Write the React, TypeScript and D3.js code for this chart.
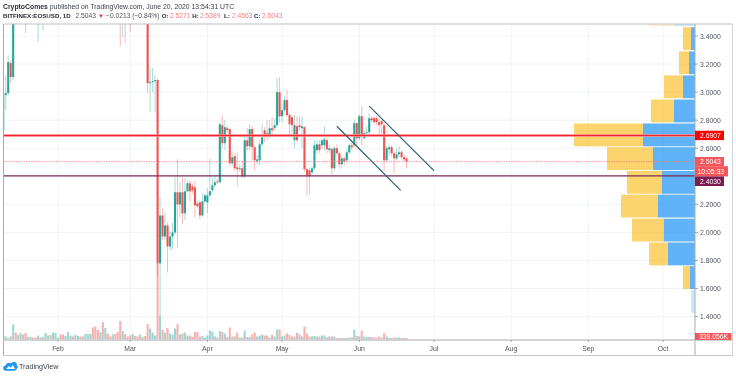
import React from "react";
import * as d3 from "d3";

// Above-the-window placeholders: candles of Jan–Mar that lie beyond the top of the visible price range
const U = 3.58, D = 3.6, T = 3.62, B = 3.56;

const startDate = Date.UTC(2020, 0, 10);

const opens = [
  2.728,2.978,2.993,3.207,3.107,D,U,U,D,D,
  U,U,D,D,U,D,U,U,U,D,
  U,U,U,D,D,U,U,U,D,U,
  U,D,D,U,U,U,D,D,D,U,
  D,U,D,D,U,D,D,D,U,D,
  D,D,U,D,D,U,D,D,3.6,3.064,
  3.071,3.078,3.086,1.779,2.121,1.971,2.05,1.9,1.971,2.0,
  2.286,2.2,2.286,2.136,2.293,2.35,2.328,2.321,2.207,2.214,
  2.121,2.221,2.214,2.264,2.3,2.336,2.364,2.357,2.764,2.636,
  2.743,2.736,2.493,2.543,2.464,2.45,2.457,2.4,2.657,2.614,
  2.736,2.607,2.507,2.514,2.628,2.728,2.707,2.693,2.743,2.743,
  2.764,3.0,2.828,2.871,2.943,2.836,2.821,2.657,2.757,2.764,
  2.743,2.75,2.45,2.443,2.428,2.457,2.586,2.628,2.621,2.621,
  2.657,2.586,2.593,2.457,2.6,2.564,2.486,2.528,2.514,2.571,
  2.621,2.621,2.778,2.671,2.828,2.671,2.707,2.714,2.814,2.814,
  2.814,2.786,2.793,2.764,2.514,2.593,2.607,2.564,2.528,2.557,
  2.571,2.536,2.5271,
];
const highs = [
  3.014,3.121,3.264,3.228,T,T,T,T,T,T,
  T,T,T,T,T,T,T,T,T,T,
  T,T,T,T,T,T,T,T,T,T,
  T,T,T,T,T,T,T,T,T,T,
  T,T,T,T,T,T,T,T,T,T,
  T,T,T,T,T,T,T,T,T,3.178,
  3.171,3.121,3.1,2.25,2.171,2.143,2.071,2.014,2.071,2.393,
  2.521,2.357,2.393,2.386,2.371,2.371,2.35,2.371,2.228,2.228,
  2.278,2.278,2.314,2.528,2.393,2.4,2.386,2.786,2.836,2.8,
  2.757,2.743,2.571,2.564,2.571,2.486,2.514,2.693,2.743,2.771,
  2.757,2.621,2.55,2.657,2.778,2.75,2.8,2.8,2.821,2.814,
  3.1,3.107,2.914,2.971,3.014,2.85,2.836,2.836,2.828,2.828,
  2.828,2.757,2.457,2.457,2.471,2.657,2.657,2.657,2.671,2.757,
  2.678,2.621,2.607,2.614,2.628,2.578,2.55,2.543,2.593,2.636,
  2.643,2.8,2.786,2.843,2.9,2.728,2.757,2.85,2.828,2.828,
  2.828,2.807,2.8,2.771,2.614,2.621,2.621,2.578,2.6,2.614,
  2.586,2.55,2.5389,
];
const lows = [
  2.693,2.871,2.978,3.064,3.086,B,B,B,B,3.421,
  B,B,B,B,3.357,B,3.436,B,B,B,
  B,B,B,B,B,B,B,B,B,B,
  B,B,B,B,B,B,B,B,B,B,
  B,B,B,B,B,B,B,3.328,3.393,3.35,
  B,3.428,B,B,B,B,B,B,2.993,2.857,
  3.0,2.857,1.686,1.407,1.943,1.943,1.714,1.871,1.879,1.986,
  1.893,2.107,2.064,2.086,2.286,2.221,2.278,2.107,2.171,2.093,
  2.107,2.207,2.136,2.25,2.286,2.321,2.343,2.35,2.6,2.586,
  2.707,2.478,2.478,2.443,2.328,2.436,2.386,2.386,2.586,2.586,
  2.514,2.443,2.486,2.478,2.614,2.643,2.657,2.671,2.678,2.728,
  2.75,2.786,2.786,2.857,2.828,2.693,2.693,2.6,2.643,2.728,
  2.6,2.436,2.264,2.271,2.407,2.443,2.564,2.564,2.6,2.586,
  2.564,2.564,2.407,2.443,2.55,2.45,2.457,2.478,2.5,2.557,
  2.586,2.607,2.621,2.657,2.621,2.664,2.7,2.7,2.786,2.771,
  2.764,2.693,2.693,2.436,2.5,2.55,2.543,2.421,2.514,2.536,
  2.521,2.507,2.4563,
];
const closes = [
  2.978,2.993,3.214,3.107,3.58,U,D,D,U,U,
  D,D,U,U,D,U,D,D,D,U,
  D,D,D,U,U,D,D,D,U,D,
  D,U,U,D,D,D,U,U,U,D,
  U,D,U,U,D,U,U,U,D,U,
  U,U,D,U,U,D,U,U,3.064,3.071,
  3.078,3.086,1.779,2.121,1.971,2.05,1.9,1.971,2.0,2.286,
  2.2,2.286,2.136,2.293,2.35,2.293,2.3,2.193,2.186,2.121,
  2.221,2.264,2.264,2.293,2.336,2.357,2.357,2.771,2.636,2.75,
  2.728,2.493,2.536,2.457,2.45,2.457,2.4,2.657,2.614,2.736,
  2.607,2.514,2.521,2.628,2.678,2.693,2.7,2.743,2.728,2.764,
  3.0,2.828,2.871,2.943,2.836,2.771,2.764,2.764,2.657,2.75,
  2.757,2.45,2.407,2.4,2.457,2.621,2.628,2.586,2.657,2.664,
  2.593,2.6,2.457,2.6,2.564,2.486,2.528,2.507,2.571,2.621,
  2.607,2.778,2.671,2.828,2.693,2.707,2.714,2.814,2.8,2.786,
  2.786,2.764,2.771,2.514,2.6,2.607,2.564,2.528,2.557,2.571,
  2.536,2.521,2.5043,
];
const volumesK = [
  678,678,339,678,3390,1582,1017,1469,1130,1469,
  565,565,452,452,904,452,565,1469,904,1017,
  1582,1469,339,1130,1130,791,1695,904,678,1017,
  791,678,678,1243,1243,1243,2712,2938,2147,1582,
  3955,2599,1356,678,1130,1243,1695,4181,1921,1243,
  678,904,1243,791,678,1130,565,791,3503,2486,
  1582,904,17176,5424,2147,1582,2599,1356,1130,2486,
  3503,1130,1356,1582,904,904,565,1695,1695,678,
  791,452,904,2034,1808,678,452,1921,1695,1356,
  565,2712,678,678,1582,452,452,2034,565,565,
  1130,1582,678,904,1130,904,904,452,1017,678,
  2260,2260,678,904,1356,1017,678,678,1469,1130,
  678,2938,1356,678,678,791,678,678,904,904,
  452,678,678,678,339,339,339,339,339,452,
  452,2260,791,678,2034,678,565,565,565,452,
  339,678,452,1469,678,339,339,452,452,452,
  339,339,339,
];

const priceTicks = [3.4, 3.2, 3.0, 2.8, 2.6, 2.2, 2.0, 1.8, 1.6, 1.4];
const gridPrices = [3.4, 3.2, 3.0, 2.8, 2.6, 2.4, 2.2, 2.0, 1.8, 1.6, 1.4];
const monthLabels = ["Feb", "Mar", "Apr", "May", "Jun", "Jul", "Aug", "Sep", "Oct"];
const monthIndex = [1, 2, 3, 4, 5, 6, 7, 8, 9];

// Visible-range volume profile, top row first
const vpBottoms = [3.464, 3.293, 3.121, 2.95, 2.778, 2.607, 2.438, 2.269, 2.1, 1.929, 1.759, 1.59, 1.421];
const vpBuy = [21, 4, 6, 12, 21, 52, 42, 33, 37, 31, 27, 5, 4];
const vpSell = [25, 8, 10, 19, 23, 69, 46, 35, 37, 32, 19, 7, 0];
const vpFaded = [true, false, false, false, false, false, false, false, false, false, false, false, true];
const vpRowSpan = 0.1693;

const resistancePrice = 2.6907;
const supportPrice = 2.403;
const lastPrice = 2.5043;
const countdown = "10:05:33";
const lastVolumeLabel = "339.056K";

// Trend channel, [days after Jan 10, price]
const channelLower = [[134, 2.757], [159.6, 2.3]];
const channelUpper = [[147, 2.9], [173, 2.44]];

const W = 736, H = 376;
const L = 3.5, R = 695, TOP = 24, BOT = 340, OUTER_B = 355.5, OUTER_R = 732.5;
const GREEN = "#26a69a", RED = "#ef5350";
const FONT = "'Liberation Sans', Arial, sans-serif";

export default function App() {
  const x = d3.scaleUtc().domain([new Date(Date.UTC(2020, 1, 1)), new Date(Date.UTC(2020, 9, 1))]).range([58, 663]);
  const y = d3.scaleLinear().domain([3.4, 1.4]).range([36, 316.6]);
  const day = (i: number) => x(new Date(startDate + i * 864e5));
  const volY = d3.scaleLinear().domain([0, 17176]).range([339.5, 263.5]);
  const vpX = d3.scaleLinear().domain([0, 121]).range([R, 574]);
  const chan = d3.line<number[]>().x((d) => day(d[0])).y((d) => y(d[1]));
  const bw = 2.1;

  return (
    <svg
      width={W}
      height={H}
      viewBox={`0 0 ${W} ${H}`}
      style={{ position: "absolute", left: 0, top: 0, display: "block", background: "#fff", filter: "blur(0.4px)" }}
      fontFamily={FONT}
    >
      <defs>
        <clipPath id="plot">
          <rect x={L} y={TOP} width={R - L} height={BOT - TOP} />
        </clipPath>
      </defs>

      {/* header */}
      <text x={3} y={9} fontSize={6.85} fill="#3a3e4a">
        <tspan fontWeight="bold" fill="#2a2e39">CryptoComes</tspan> published on TradingView.com, June 20, 2020 13:54:31 UTC
      </text>
      <g fontSize={6.7}>
        <text x={3} y={18.3} fontSize={6.2} fontWeight="bold" fill="#2a2e39">BITFINEX:EOSUSD, 1D</text>
        <text x={75.5} y={18.3} fill="#50535e">{lastPrice.toFixed(4)}</text>
        <text x={98} y={18.3} fontSize={6} fill="#f23645">▼</text>
        <text x={106} y={18.3} fill="#50535e">−0.0213 (−0.84%)</text>
        <text x={161.7} y={18.3} fontSize={6.2} fontWeight="bold" fill="#2a2e39">O:</text>
        <text x={170} y={18.3} fill="#f77c80">{opens[162].toFixed(4)}</text>
        <text x={192.3} y={18.3} fontSize={6.2} fontWeight="bold" fill="#2a2e39">H:</text>
        <text x={200} y={18.3} fill="#f77c80">{highs[162].toFixed(4)}</text>
        <text x={224} y={18.3} fontSize={6.2} fontWeight="bold" fill="#2a2e39">L:</text>
        <text x={232} y={18.3} fill="#f77c80">{lows[162].toFixed(4)}</text>
        <text x={254} y={18.3} fontSize={6.2} fontWeight="bold" fill="#2a2e39">C:</text>
        <text x={262} y={18.3} fill="#f77c80">{closes[162].toFixed(4)}</text>
      </g>

      {/* grid */}
      <g stroke="#eff3f8" strokeWidth={1}>
        {gridPrices.map((p) => (
          <line key={p} x1={L} x2={R} y1={y(p)} y2={y(p)} />
        ))}
        {monthIndex.map((m) => {
          const px = x(new Date(Date.UTC(2020, m, 1)));
          return <line key={m} x1={px} x2={px} y1={TOP} y2={BOT} />;
        })}
      </g>

      <g clipPath="url(#plot)">
        {/* volume */}
        {volumesK.map((v, i) => (
          <rect
            key={i}
            x={day(i) - bw / 2}
            y={volY(v)}
            width={bw}
            height={volY(0) - volY(v)}
            fill={closes[i] >= opens[i] ? GREEN : RED}
            opacity={0.45}
          />
        ))}
        {/* candles */}
        {opens.map((o, i) => {
          const c = closes[i];
          const col = c >= o ? GREEN : RED;
          const cx = day(i);
          const top = y(Math.max(o, c));
          const bot = y(Math.min(o, c));
          return (
            <g key={i}>
              <line x1={cx} x2={cx} y1={y(highs[i])} y2={y(lows[i])} stroke={col} strokeWidth={0.8} opacity={0.5} />
              <rect x={cx - bw / 2} y={top} width={bw} height={Math.max(bot - top, 0.9)} fill={col} />
            </g>
          );
        })}

        {/* volume profile */}
        {vpBottoms.map((b, i) => {
          const yTop = y(b + vpRowSpan);
          const h = y(b) - yTop - 0.9;
          const split = vpX(vpBuy[i]);
          const left = vpX(vpBuy[i] + vpSell[i]);
          return (
            <g key={b} opacity={vpFaded[i] ? 0.32 : 1}>
              <rect x={split} y={yTop} width={R - split} height={h} fill="#2196f3" fillOpacity={0.72} />
              <rect x={left} y={yTop} width={split - left} height={h} fill="#fbc02d" fillOpacity={0.7} />
            </g>
          );
        })}

        {/* last price dotted line */}
        <line x1={L} x2={R} y1={y(lastPrice)} y2={y(lastPrice)} stroke="#f77c80" strokeWidth={0.8} strokeDasharray="1.5 1" />
        {/* horizontal levels */}
        <line x1={L} x2={R} y1={y(resistancePrice)} y2={y(resistancePrice)} stroke="#ffb3b3" strokeWidth={2.4} />
        <line x1={L} x2={R} y1={y(resistancePrice)} y2={y(resistancePrice)} stroke="#f2222e" strokeWidth={1.3} />
        <line x1={L} x2={R} y1={y(supportPrice)} y2={y(supportPrice)} stroke="#7b2a59" strokeWidth={1.3} />
        {/* channel */}
        <path d={chan(channelLower) ?? ""} fill="none" stroke="#2d5f6e" strokeWidth={1.2} />
        <path d={chan(channelUpper) ?? ""} fill="none" stroke="#2d5f6e" strokeWidth={1.2} />
      </g>

      {/* frame */}
      <g fill="none">
        <line x1={L} x2={L} y1={TOP} y2={OUTER_B} stroke="#a9abb3" strokeWidth={1} />
        <line x1={L} x2={OUTER_R} y1={TOP} y2={TOP} stroke="#bdbfc5" strokeWidth={1} />
        <line x1={R} x2={R} y1={TOP} y2={OUTER_B} stroke="#a9abb3" strokeWidth={1} />
        <line x1={L} x2={OUTER_R} y1={BOT} y2={BOT} stroke="#c3c4c9" strokeWidth={1.4} />
        <line x1={L} x2={OUTER_R} y1={OUTER_B} y2={OUTER_B} stroke="#c3c4c9" strokeWidth={1} />
        <line x1={OUTER_R} x2={OUTER_R} y1={TOP} y2={OUTER_B} stroke="#d3d4d8" strokeWidth={1} />
      </g>

      {/* price axis */}
      <g fontSize={6.8} fill="#50535e">
        {priceTicks.map((p) => (
          <g key={p}>
            <line x1={R} x2={R + 3} y1={y(p)} y2={y(p)} stroke="#8f929a" strokeWidth={0.8} />
            <text x={700} y={y(p) + 2.5}>{p.toFixed(4)}</text>
          </g>
        ))}
      </g>

      {/* time axis */}
      <g fontSize={6.8} fill="#50535e" textAnchor="middle">
        {monthIndex.map((m, i) => {
          const px = x(new Date(Date.UTC(2020, m, 1)));
          return (
            <g key={m}>
              <line x1={px} x2={px} y1={BOT} y2={BOT + 2} stroke="#8f929a" strokeWidth={0.8} />
              <text x={px} y={351}>{monthLabels[i]}</text>
            </g>
          );
        })}
      </g>

      {/* price labels */}
      <g fontSize={6.8} fill="#fff">
        <rect x={R} y={y(resistancePrice) - 4.8} width={29} height={9.4} fill="#ff0000" />
        <text x={700} y={y(resistancePrice) + 2.5}>{resistancePrice.toFixed(4)}</text>
        <rect x={R} y={157} width={29} height={9.2} fill="#f4565a" />
        <text x={700} y={164}>{lastPrice.toFixed(4)}</text>
        <rect x={R} y={166.2} width={33} height={10.2} fill="#f4565a" />
        <text x={697.5} y={173.8}>{countdown}</text>
        <rect x={R} y={176.4} width={29} height={9.6} fill="#7b1b4f" />
        <text x={700} y={183.7}>{supportPrice.toFixed(4)}</text>
        <rect x={R} y={333} width={36.5} height={7} fill="#f4565a" />
        <text x={699} y={339.4}>{lastVolumeLabel}</text>
      </g>

      {/* logo */}
      <g transform="translate(3.2,361.5)">
        <path
          d="M2.6 9.3 C0.9 9.3 0 8 0 6.7 C0 5.3 1 4.2 2.4 4.1 C2.9 2.3 4.2 1.3 5.7 1.3 C6.6 1.3 7.3 1.6 7.9 2.1 C8.5 0.9 9.5 0.2 10.8 0.2 C12.5 0.2 13.7 1.6 13.7 3.3 C13.7 3.6 13.7 3.8 13.6 4.1 C14.8 4.6 15 5.6 14 6.8 C13.2 8.5 12.4 9.3 11 9.3 Z"
          fill="#2196f3"
        />
        <path d="M3 7.6 L5.7 4.4 L7.6 6.2 L9.6 3.6 L12 7.6 Z" fill="#fff" />
      </g>
      <text x={19} y={368.6} fontSize={7.2} fill="#3a3e4a">TradingView</text>
    </svg>
  );
}
